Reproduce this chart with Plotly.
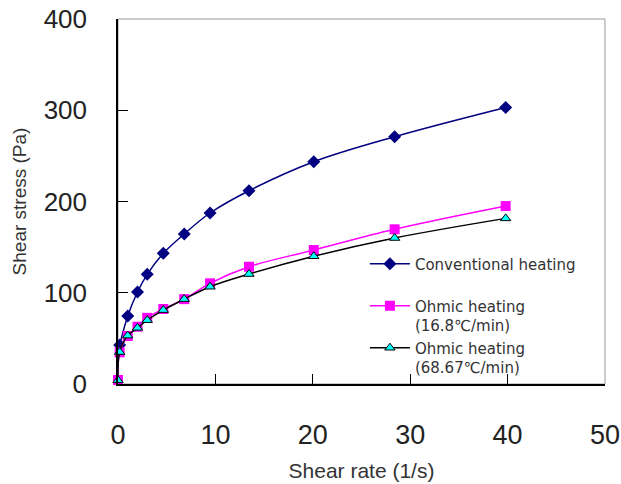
import plotly.graph_objects as go

# Shear rate (1/s) and shear stress (Pa) for each heating method
rate_conv = [0.17, 1.0, 2.0, 3.0, 4.65, 6.8, 9.45, 13.45, 20.1, 28.4, 39.8]
stress_conv = [42.7, 74.5, 100.8, 120.2, 143.2, 164.4, 187.4, 211.8, 243.6, 271.0, 303.0]

rate_ohm = [0.0, 0.17, 1.0, 2.0, 3.0, 4.65, 6.8, 9.45, 13.45, 20.1, 28.4, 39.8]
stress_ohm_slow = [4.4, 34.7, 52.6, 62.8, 72.5, 82.2, 93.0, 110.3, 128.5, 146.8, 169.5, 195.0]
stress_ohm_fast = [4.0, 35.0, 53.0, 61.5, 70.0, 81.0, 93.0, 106.6, 120.5, 140.0, 160.0, 181.5]

x_ticks = [0, 10, 20, 30, 40, 50]
y_ticks = [0, 100, 200, 300, 400]

# a blank second line keeps the legend rows evenly spaced
names = [
    "Conventional heating<br> ",
    "Ohmic heating<br>(16.8℃/min)",
    "Ohmic heating<br>(68.67℃/min)",
]

fig = go.Figure()

fig.add_trace(go.Scatter(
    x=rate_conv, y=stress_conv, name=names[0], mode="lines+markers",
    line=dict(color="#000080", width=1.5, shape="spline", smoothing=1),
    marker=dict(symbol="diamond", size=10, color="#000080"),
    cliponaxis=False, legendgroup="a",
))
fig.add_trace(go.Scatter(
    x=rate_ohm, y=stress_ohm_slow, name=names[1], mode="lines+markers",
    line=dict(color="#FF00FF", width=1.5, shape="spline", smoothing=1),
    marker=dict(symbol="square", size=10, color="#FF00FF"),
    cliponaxis=False, legendgroup="b",
))
fig.add_trace(go.Scatter(
    x=rate_ohm, y=stress_ohm_fast, name=names[2], mode="lines+markers",
    line=dict(color="#000000", width=1.5, shape="spline", smoothing=1),
    marker=dict(symbol="triangle-up", size=9, color="#00FFFF",
                line=dict(color="#000000", width=1)),
    cliponaxis=False, legendgroup="c",
))

# light grey frame on top/right, black axis lines on left/bottom
fig.add_shape(type="rect", xref="paper", yref="paper", x0=0, y0=0, x1=1, y1=1,
              line=dict(color="#999999", width=1), layer="below")

narrow = "Liberation Sans Narrow, Arial Narrow, Liberation Sans, sans-serif"
regular = "Liberation Sans, Arial, sans-serif"

fig.update_layout(
    width=621, height=484,
    margin=dict(l=118, r=16, t=19, b=100, autoexpand=False),
    paper_bgcolor="white", plot_bgcolor="white",
    showlegend=True,
    legend=dict(
        x=0.507, y=0.374, xanchor="left", yanchor="top",
        bgcolor="rgba(0,0,0,0)", borderwidth=0,
        font=dict(family="DejaVu Sans", size=15, color="#333333"),
        itemwidth=40, valign="top", tracegroupgap=2,
        traceorder="normal",
    ),
    xaxis=dict(
        range=[0, 50], tickvals=x_ticks, ticks="inside", ticklen=10,
        tickcolor="black", showgrid=False, zeroline=False, automargin=False,
        showline=True, linecolor="black", linewidth=1.5,
        tickfont=dict(family=narrow, size=27, color="#222222"),
        ticklabelstandoff=26,
        title=dict(text="Shear rate (1/s)", standoff=14,
                   font=dict(family=narrow, size=21, color="#333333")),
    ),
    yaxis=dict(
        range=[0, 400], tickvals=y_ticks, ticks="inside", ticklen=10,
        tickcolor="black", showgrid=False, zeroline=False, automargin=False,
        showline=True, linecolor="black", linewidth=1.5,
        tickfont=dict(family=regular, size=26, color="#222222"),
        ticklabelstandoff=24,
        title=dict(text="Shear stress (Pa)", standoff=12,
                   font=dict(family=regular, size=19, color="#333333")),
    ),
)

fig.write_html("out.html")
